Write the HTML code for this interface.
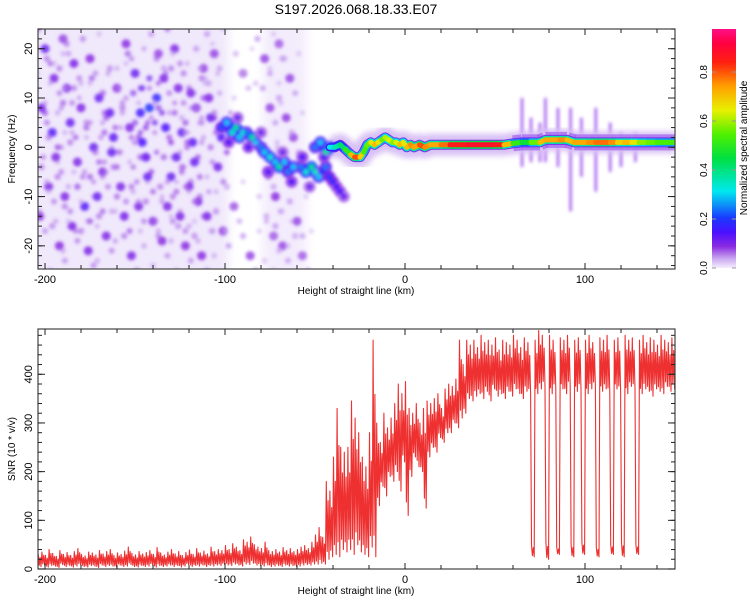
<!DOCTYPE html>
<html><head><meta charset="utf-8"><style>
html,body{margin:0;padding:0;background:#fff;}
svg{display:block;font-family:"Liberation Sans",sans-serif;}
</style></head><body>
<svg id="chart" width="750" height="600" viewBox="0 0 750 600" xmlns="http://www.w3.org/2000/svg">
<defs>
<filter id="blur" x="-50%" y="-50%" width="200%" height="200%"><feGaussianBlur stdDeviation="1.6"/></filter>
<filter id="blur2" x="-50%" y="-50%" width="200%" height="200%"><feGaussianBlur stdDeviation="3"/></filter>
<filter id="blur4" x="-20%" y="-20%" width="140%" height="140%"><feGaussianBlur stdDeviation="5"/></filter>
<clipPath id="clipTop"><rect x="38" y="29" width="637" height="240"/></clipPath>
<clipPath id="clipBot"><rect x="38" y="329" width="637" height="240"/></clipPath>
<linearGradient id="cbar" x1="0" y1="1" x2="0" y2="0">
<stop offset="0" stop-color="#f4eefc"/><stop offset="0.04" stop-color="#c9a6f0"/><stop offset="0.09" stop-color="#8a2be2"/><stop offset="0.15" stop-color="#4a10ff"/><stop offset="0.21" stop-color="#1a3aff"/><stop offset="0.32" stop-color="#00e8f0"/><stop offset="0.46" stop-color="#00e040"/><stop offset="0.56" stop-color="#50f000"/><stop offset="0.66" stop-color="#e8f000"/><stop offset="0.76" stop-color="#ffa000"/><stop offset="0.86" stop-color="#ff2010"/><stop offset="0.94" stop-color="#ff0040"/><stop offset="1" stop-color="#ff1088"/>
</linearGradient>
</defs>
<text x="356" y="14" font-size="14" text-anchor="middle">S197.2026.068.18.33.E07</text>
<g id="topPanel"></g>
<g id="botPanel"></g>
<g id="cb"></g>
</svg>
<script>
// ---- spectrogram data ----
const noiseX=[-200,-195,-190,-186,-182,-178,-175,-170,-166,-162,-158,-155,-150,-147,-144,-140,-137,-133,-130,-126,-122,-118,-115,-112,-108,-104,-101,-198,-192,-188,-173,-168,-160,-152,-148,-142,-138,-135,-128,-124,-120,-116,-110,-106,-102,-196,-184,-176,-164,-156,-146,-132,-127,-119,-113,-185,-180,-171,-163,-153,-143,-134,-125,-117,-109,-203,-202,-194,-189,-78,-75,-72,-68,-64,-60,-76,-70,-62,-57,-73,-66,-95,-90,-86];
const noiseF=[20,14,22,5,-3,-12,18,10,-18,2,-8,21,15,7,-2,-15,19,4,-6,12,-20,1,-11,16,6,-4,-17,-8,-20,12,0,-5,12,-22,-12,8,10,-19,20,3,-8,8,-14,19,2,3,17,-21,7,-14,1,-12,-2,11,-22,-16,8,-10,-1,4,-6,14,-14,-3,10,-14,8,-2,-10,18,8,-10,-20,14,-15,-5,21,2,-22,-18,6,-12,15,-22];
const noiseA=[.12,.1,.08,.12,.1,.14,.09,.12,.1,.13,.1,.09,.12,.16,.14,.1,.08,.15,.12,.1,.09,.13,.1,.08,.12,.11,.09,.1,.09,.1,.12,.1,.09,.1,.1,.2,.18,.09,.1,.12,.1,.1,.1,.08,.14,.14,.1,.1,.12,.11,.15,.1,.12,.1,.09,.1,.1,.12,.12,.1,.12,.1,.1,.12,.1,.09,.11,.1,.1,.08,.08,.09,.08,.08,.08,.08,.07,.08,.07,.07,.08,.07,.06,.08];
const blobX=[-102,-99,-96,-94,-92,-90,-88,-85,-83,-80,-78,-75,-72,-70,-67,-65,-62,-58,-55,-52,-50,-48,-46,-44,-42,-40,-38,-36,-34,-50,-47,-44,-42,-98,-93,-87,-80,-76,-68,-63,-57,-53,-45];
const blobF=[4,5,3,4,2,3,3,2,1,0,-1,-2,-3,-4,-3,-5,-4,-4,-5,-4,-5,-6,-5,-4,-6,-7,-8,-9,-10,0,1,-1,0,1,6,0,3,-5,-1,-7,-2,-8,-2];
const blobA=[.22,.3,.35,.4,.3,.35,.25,.4,.3,.25,.3,.35,.3,.4,.3,.25,.3,.25,.35,.4,.35,.3,.2,.25,.2,.18,.15,.15,.12,.25,.3,.4,.35,.15,.12,.15,.12,.15,.12,.15,.15,.12,.15];
const ridgeX=[-42,-39,-36,-33,-30,-28,-25,-23,-21,-19,-17,-15,-13,-11,-9,-7,-5,-3,-1,1,3,5,8,11,14,17,20,25,30,35,40,45,50,55,60,65,70,75,78,82,86,90,94,98,102,106,110,114,118,122,126,130,135,140,145,150];
const ridgeF=[0,0,0.5,-0.5,-1.5,-2,-2,-1,0.5,1,0.5,1,1.5,2,1.5,1,1,0.5,1,0,0.5,0,0.5,0,0.5,0.5,0.5,0.5,0.5,0.5,0.5,0.5,0.5,0.5,0.8,1,1,1,1.5,1.5,1.5,1.5,1,1,1,1,1,1,1,1,1,1,1,1,1,1];
const ridgeA=[.3,.35,.4,.45,.6,.85,.8,.6,.5,.65,.7,.75,.6,.55,.7,.6,.6,.7,.75,.6,.85,.7,.8,.85,.7,.8,.7,.9,.85,.9,.9,.9,.9,.85,.6,.45,.5,.65,.8,.7,.8,.75,.7,.8,.7,.85,.75,.85,.7,.7,.75,.6,.6,.55,.55,.55];
const streakX=[65,70,75,78,85,92,98,106,114,120,128];
const streakLo=[-4,-3,-3,-3,-4,-13,-6,-9,-5,-4,-3];
const streakHi=[10,6,5,10,8,8,6,8,5,3,3];
// ---- SNR data (2 km bins from -204 km): low / high envelope per bin ----
const snrStart=-204, snrStep=2;
const snrHi=[30,35,28,40,32,26,38,30,34,28,36,42,30,27,35,33,29,38,31,36,40,28,33,30,37,45,32,29,36,31,34,38,30,44,33,29,35,40,31,36,28,34,39,30,42,33,37,31,45,36,40,38,
48,40,52,45,38,60,55,66,50,45,
42,55,38,36,40,35,44,38,42,36,40,45,48,42,55,
70,85,65,180,160,
230,330,250,240,
250,345,310,280,
230,210,280,470,
300,260,320,290,310,
340,380,360,385,330,
320,340,300,330,345,
340,350,360,330,370,
380,375,390,470,
420,470,
460,470,455,480,465,470,460,475,450,470,465,460,480,470,455,475,465,
50,470,490,480,55,480,470,45,475,470,480,50,470,475,55,470,480,465,45,475,470,480,50,470,475,55,480,470,475,50,
470,480,465,475,470,460,480,470,465,475,470];
const snrLo=[5,8,4,7,6,3,9,5,7,4,6,8,5,4,7,6,3,8,5,7,6,4,8,5,6,9,5,4,7,5,6,8,4,7,5,6,8,5,7,4,6,9,5,7,6,8,5,7,6,8,7,9,
8,7,10,8,6,10,9,12,8,7,
6,8,5,6,7,5,8,6,7,5,6,8,9,8,10,
10,12,10,20,25,
30,25,40,35,
40,30,50,35,
30,25,45,25,
130,170,150,190,180,
200,160,220,110,190,
230,210,200,125,230,
250,240,270,260,280,
280,300,290,310,
320,350,
345,355,360,350,365,345,370,355,360,350,365,355,370,360,350,365,360,
25,360,370,375,20,360,370,30,370,360,375,25,365,370,30,360,370,375,25,365,370,360,30,370,365,25,360,375,370,30,
360,370,365,355,370,365,360,375,365,370,360];

const NS='http://www.w3.org/2000/svg';
function mk(tag,attrs,parent){const e=document.createElementNS(NS,tag);for(const k in attrs)e.setAttribute(k,attrs[k]);parent.appendChild(e);return e;}
const X0=38,X1=675,XMIN=-203.9,XMAX=150;
function xs(v){return X0+(v-XMIN)/(XMAX-XMIN)*(X1-X0);}
const TY0=29,TY1=269,FMIN=-24.7,FMAX=24;
function fy(v){return TY1-(v-FMIN)/(FMAX-FMIN)*(TY1-TY0);}
const BY0=329,BY1=569,SMAX=493;
function sy(v){return BY1-v/SMAX*(BY1-BY0);}
const stops=[[0,[244,238,252]],[.04,[201,166,240]],[.09,[138,43,226]],[.15,[74,16,255]],[.21,[26,58,255]],[.32,[0,232,240]],[.46,[0,224,64]],[.56,[80,240,0]],[.66,[232,240,0]],[.76,[255,160,0]],[.86,[255,32,16]],[.94,[255,0,64]],[1,[255,16,136]]];
function cmap(v){v=Math.max(0,Math.min(1,v));for(let i=1;i<stops.length;i++){if(v<=stops[i][0]){const a=stops[i-1],b=stops[i],t=(v-a[0])/(b[0]-a[0]);const c=a[1].map((q,j)=>Math.round(q+(b[1][j]-q)*t));return 'rgb('+c.join(',')+')';}}return 'rgb(255,16,136)';}

// ---------- top panel ----------
const topPanel=document.getElementById('topPanel');
const tg=mk('g',{'clip-path':'url(#clipTop)'},topPanel);
const bgg=mk('g',{filter:'url(#blur4)'},tg);
const bg1=mk('rect',{x:xs(-210),y:TY0-10,width:xs(-98)-xs(-210),height:TY1-TY0+20,fill:'#f0e8fb'},bgg);


const bg2=mk('rect',{x:xs(-79),y:TY0-10,width:xs(-55)-xs(-79),height:TY1-TY0+20,fill:'#f3ecfc'},bgg);


const ng=mk('g',{filter:'url(#blur)'},tg);
const kern=[[0,0,4.5,1,0.85],[3,-3,3,0.6,0.7],[-4,4,3.2,0.7,0.6],[5,5,2.6,0.45,0.6],[-5,-5,2.8,0.5,0.6]];
for(let i=0;i<noiseX.length;i++){
  for(const k of kern){
    const c=mk('circle',{cx:xs(noiseX[i]+k[0]),cy:fy(noiseF[i]+k[1]),r:k[2],fill:cmap(noiseA[i]*k[3]),opacity:k[4]},ng);
    
    
  }
}
const sg=mk('g',{filter:'url(#blur)'},tg);
for(let i=0;i<streakX.length;i++){
  const r=mk('rect',{x:xs(streakX[i])-1.2,y:fy(streakHi[i]),width:2.4,height:fy(streakLo[i])-fy(streakHi[i]),fill:'#8a30e8',opacity:0.8},sg);
  
  
}
let pts=ridgeX.map((x,i)=>xs(x)+','+fy(ridgeF[i])).join(' ');
const h1=mk('polyline',{points:pts,fill:'none',stroke:'#d8c0f4',"stroke-width":22,"stroke-linejoin":'round',filter:'url(#blur2)'},tg);


for(let i=0;i<ridgeX.length-1;i++){
  if(ridgeX[i]<60)continue;
  const w=mk('line',{x1:xs(ridgeX[i]),y1:fy(ridgeF[i]),x2:xs(ridgeX[i+1]),y2:fy(ridgeF[i+1]),stroke:'#a060f0',"stroke-width":16,opacity:0.7},tg);
  
  
}
const h2=mk('polyline',{points:pts,fill:'none',stroke:'#7a2cf0',"stroke-width":10,"stroke-linejoin":'round'},tg);


const bgp=mk('g',{filter:'url(#blur)'},tg);
for(let i=0;i<blobX.length;i++){
  const c=mk('circle',{cx:xs(blobX[i]),cy:fy(blobF[i]),r:6,fill:cmap(blobA[i]*0.5)},bgp);
  
  
}
for(let i=0;i<blobX.length;i++){
  const c=mk('circle',{cx:xs(blobX[i]),cy:fy(blobF[i]),r:3,fill:cmap(blobA[i])},bgp);
  
  
}
for(let i=0;i<ridgeX.length-1;i++){
  const a=(ridgeA[i]+ridgeA[i+1])/2;
  const l1=mk('line',{x1:xs(ridgeX[i]),y1:fy(ridgeF[i]),x2:xs(ridgeX[i+1]),y2:fy(ridgeF[i+1]),stroke:cmap(a*0.5),"stroke-width":8,"stroke-linecap":'round'},tg);
  
  
}
for(let i=0;i<ridgeX.length-1;i++){
  const a=(ridgeA[i]+ridgeA[i+1])/2;
  const l2=mk('line',{x1:xs(ridgeX[i]),y1:fy(ridgeF[i]),x2:xs(ridgeX[i+1]),y2:fy(ridgeF[i+1]),stroke:cmap(a),"stroke-width":5,"stroke-linecap":'round'},tg);
  
  
}

function axes(g,y0,y1,yTicks,yMinor,yfun,yLabel){
  const fr=mk('rect',{x:X0,y:y0,width:X1-X0,height:y1-y0,fill:'none',stroke:'#444',"stroke-width":1.2},g);
  
  
  for(let v=-200;v<=140;v+=20){
    const x=xs(v),L=(v%100===0)?6:4;
    mk('line',{x1:x,y1:y1,x2:x,y2:y1-L,stroke:'#222'},g);
    mk('line',{x1:x,y1:y0,x2:x,y2:y0+L,stroke:'#222'},g);
    if(v%100===0){const t=mk('text',{x:x,y:y1+14,"font-size":11,"text-anchor":'middle'},g);t.textContent=v;
      
      }
  }
  for(const v of yMinor){const y=yfun(v);mk('line',{x1:X0,y1:y,x2:X0+4,y2:y,stroke:'#222'},g);mk('line',{x1:X1,y1:y,x2:X1-4,y2:y,stroke:'#222'},g);}
  for(const v of yTicks){const y=yfun(v);mk('line',{x1:X0,y1:y,x2:X0+7,y2:y,stroke:'#222'},g);mk('line',{x1:X1,y1:y,x2:X1-7,y2:y,stroke:'#222'},g);
    const t=mk('text',{x:0,y:0,"font-size":11,"text-anchor":'middle',transform:'translate('+(X0-6)+','+y+') rotate(-90)'},g);t.textContent=v;
    
    }
  const xl=mk('text',{x:356,y:y1+25,"font-size":10,"text-anchor":'middle'},g);xl.textContent='Height of straight line (km)';
  
  
  const yl=mk('text',{x:0,y:0,"font-size":10,"text-anchor":'middle',transform:'translate(15,'+((y0+y1)/2)+') rotate(-90)'},g);yl.textContent=yLabel;
  
  
}
const fMinor=[];for(let v=-24;v<=24;v+=2)fMinor.push(v);
axes(topPanel,TY0,TY1,[-20,-10,0,10,20],fMinor,fy,'Frequency (Hz)');

// ---------- bottom panel ----------
const botPanel=document.getElementById('botPanel');
const bgc=mk('g',{'clip-path':'url(#clipBot)'},botPanel);
const sp=[];
for(let i=0;i<snrHi.length;i++){
  const x0=snrStart+i*snrStep,h=snrHi[i],l=snrLo[i],d=h-l;
  sp.push([x0+0.25,h],[x0+0.75,l+d*0.1],[x0+1.25,l+d*0.75],[x0+1.75,l]);
}
const snrLine=mk('polyline',{points:sp.map(p=>xs(p[0]).toFixed(1)+','+sy(p[1]).toFixed(1)).join(' '),fill:'none',stroke:'#ee3030',"stroke-width":1.1,"stroke-linejoin":'round'},bgc);


const sMinor=[];for(let v=0;v<=480;v+=20)sMinor.push(v);
axes(botPanel,BY0,BY1,[0,100,200,300,400],sMinor,sy,'SNR (10 * v/v)');

// ---------- colorbar ----------
const cb=document.getElementById('cb');
const cr=mk('rect',{x:712,y:29,width:24,height:239,fill:'url(#cbar)'},cb);


for(const v of [0,0.2,0.4,0.6,0.8]){
  const y=268-v*245;
  const t=mk('text',{x:0,y:0,"font-size":10,"text-anchor":'middle',transform:'translate(707,'+y+') rotate(-90)'},cb);t.textContent=v.toFixed(1);
  
  
  mk('line',{x1:712,y1:y,x2:716,y2:y,stroke:'#999'},cb);mk('line',{x1:732,y1:y,x2:736,y2:y,stroke:'#999'},cb);
}
const ct=mk('text',{x:0,y:0,"font-size":10,"text-anchor":'middle',transform:'translate(747,148) rotate(-90)'},cb);ct.textContent='Normalized spectral amplitude';


</script>
</body></html>
